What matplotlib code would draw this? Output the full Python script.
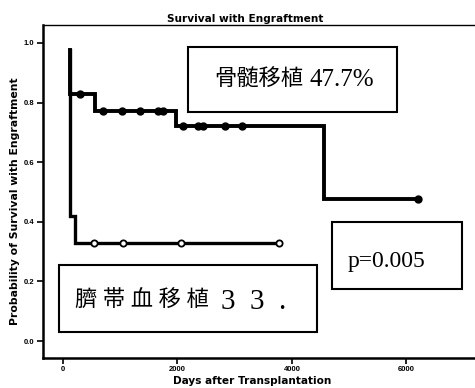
import matplotlib.pyplot as plt
import numpy as np
from matplotlib.patches import Rectangle

# Kaplan-Meier step data (days, probability)
bm_days = [120, 120, 560, 1980, 4560, 6200]
bm_surv = [0.975, 0.83, 0.77, 0.72, 0.477, 0.477]
bm_censor_days = [300, 700, 1030, 1345, 1660, 1750, 2100, 2360, 2450, 2830, 3130, 6200]

cb_days = [120, 120, 210, 3775]
cb_surv = [0.975, 0.42, 0.33, 0.33]
cb_censor_days = [540, 1050, 2060, 3775]

bm_name = "骨髄移植"
bm_rate = "47.7%"
cb_name = "臍 帯 血 移 植"
cb_rate = "3  3  ."
p_label = "p=0.005"

x_ticks = [0, 2000, 4000, 6000]
y_ticks = [0.0, 0.2, 0.4, 0.6, 0.8, 1.0]

W, H = 475, 388


def step_value(days, surv, t):
    # survival level in effect at day t (post-step)
    idx = np.searchsorted(days, t, side='right') - 1
    return np.asarray(surv)[idx]


def px(x, y):
    # pixel position -> axes fraction
    return (x - 43) / 432, (358 - y) / 333


fig = plt.figure(figsize=(W / 100, H / 100), dpi=100)
fig.patch.set_facecolor('white')
ax = fig.add_axes([43 / W, 1 - 358 / H, 432 / W, 333 / H])

ax.step(bm_days, bm_surv, where='post', color='black', lw=2.8, solid_joinstyle='miter')
ax.step(cb_days, cb_surv, where='post', color='black', lw=2.4, solid_joinstyle='miter')

ax.plot(bm_censor_days, step_value(bm_days, bm_surv, bm_censor_days), ls='none',
        marker='o', ms=5, mfc='black', mec='black')
ax.plot(cb_censor_days, step_value(cb_days, cb_surv, cb_censor_days), ls='none',
        marker='o', ms=4.5, mfc='white', mec='black', mew=1.3)

ax.set_xlim(-350, 7200)
ax.set_ylim(-0.057, 1.06)
ax.set_xticks(x_ticks)
ax.set_xticklabels([str(t) for t in x_ticks])
ax.set_yticks(y_ticks)
ax.set_yticklabels([f"{t:.1f}" for t in y_ticks])
ax.tick_params(direction='out', length=4, width=1.2, labelsize=5.5, pad=2)
for lab in ax.get_xticklabels() + ax.get_yticklabels():
    lab.set_fontweight('bold')
    lab.set_family('Liberation Sans')

ax.spines['right'].set_visible(False)
ax.spines['top'].set_linewidth(1.0)
ax.spines['left'].set_linewidth(1.8)
ax.spines['bottom'].set_linewidth(1.8)

# annotation boxes
box_kw = dict(transform=ax.transAxes, fill=False, edgecolor='black', lw=1.5, clip_on=False)
ax.add_patch(Rectangle((0.336, 0.739), 0.483, 0.195, **box_kw))
ax.add_patch(Rectangle((0.037, 0.078), 0.597, 0.201, **box_kw))
ax.add_patch(Rectangle((0.669, 0.207), 0.301, 0.201, **box_kw))

cjk = ['Noto Sans CJK JP']
serif = ['Liberation Serif']
t_kw = dict(transform=ax.transAxes, ha='left', va='center')
ax.text(*px(214, 79), bm_name, fontsize=16, family=cjk, **t_kw)
ax.text(*px(309, 80), bm_rate, fontsize=18, family=serif, **t_kw)
ax.text(*px(75, 301), cb_name, fontsize=16, family=serif + cjk, **t_kw)
ax.text(*px(221, 302), cb_rate, fontsize=21, family=serif, **t_kw)
ax.text(*px(348, 262), p_label, fontsize=17, family=serif, **t_kw)

lab_kw = dict(fontweight='bold', family='DejaVu Sans')
fig.text(245 / W, 1 - 19 / H, "Survival with Engraftment", ha='center', va='center',
         fontsize=7.6, **lab_kw)
fig.text(252 / W, 1 - 381 / H, "Days after Transplantation", ha='center', va='center',
         fontsize=7.6, **lab_kw)
fig.text(15 / W, 1 - 201 / H, "Probability of Survival with Engraftment", ha='center',
         va='center', rotation=90, fontsize=7.8, **lab_kw)

fig.savefig('out.png', dpi=100, facecolor='white')
